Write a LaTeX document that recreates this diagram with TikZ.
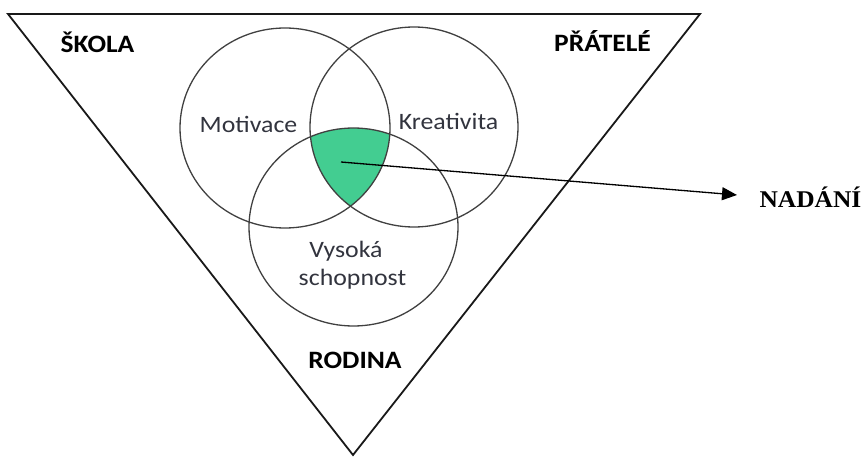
\documentclass[tikz,border=0pt]{standalone}
\usepackage{fontspec}
\usetikzlibrary{arrows.meta}
\newfontfamily\labfont[FakeStretch=1.1]{Carlito}
\newfontfamily\serfont[FakeStretch=1.06]{Liberation Serif}
\definecolor{venngreen}{RGB}{67,205,145}
\definecolor{circlegray}{RGB}{64,64,64}
\definecolor{labgray}{RGB}{50,52,62}
\tikzset{
  vennline/.style={draw=circlegray, line width=1.3pt},
  frame/.style={draw=black!90, line width=1.8pt, line join=miter},
  ctxlabel/.style={font=\labfont\bfseries\fontsize{25}{28}\selectfont, text=black, anchor=base, inner sep=0pt},
  setlabel/.style={font=\labfont\fontsize{23.5}{30}\selectfont, text=labgray, anchor=base, inner sep=0pt, align=center},
  outlabel/.style={font=\serfont\bfseries\fontsize{24}{28}\selectfont, text=black, anchor=base, inner sep=0pt},
  pointer/.style={draw=black, line width=1.3pt, -{Triangle[length=15pt,width=13pt]}}
}
\begin{document}
\begin{tikzpicture}[x=1pt,y=-1pt]
\useasboundingbox (0,0) rectangle (868,457);
% green intersection
\begin{scope}
  \clip (285,128) ellipse [x radius=105pt, y radius=100pt];
  \clip (414,127) ellipse [x radius=104pt, y radius=100pt];
  \fill[venngreen] (353.5,227) ellipse [x radius=104.5pt, y radius=99pt];
\end{scope}
% triangle
\draw[frame] (8,14) -- (700,14) -- (353,455) -- cycle;
% circles
\draw[vennline] (285,128) ellipse [x radius=105pt, y radius=100pt];
\draw[vennline] (414,127) ellipse [x radius=104pt, y radius=100pt];
\draw[vennline] (353.5,227) ellipse [x radius=104.5pt, y radius=99pt];
% labels
\node[ctxlabel] (skola) at (97.5,53) {ŠKOLA};
\node[ctxlabel] (pratele) at (602.5,52) {PŘÁTELÉ};
\node[ctxlabel] (rodina) at (355,368) {RODINA};
\node[setlabel] (motivace) at (248.5,133) {Motivace};
\node[setlabel] (kreativita) at (448.5,130) {Kreativita};
\node[setlabel] (vysoka) at (346,258) {Vysoká};
\node[setlabel] (schopnost) at (352.5,286) {schopnost};
\node[outlabel] (nadani) at (810.5,208) {NADÁNÍ};
% arrow
\coordinate (start) at (341,162);
\coordinate (tip) at (737,195);
\draw[pointer] (start) -- (tip);
\end{tikzpicture}
\end{document}
